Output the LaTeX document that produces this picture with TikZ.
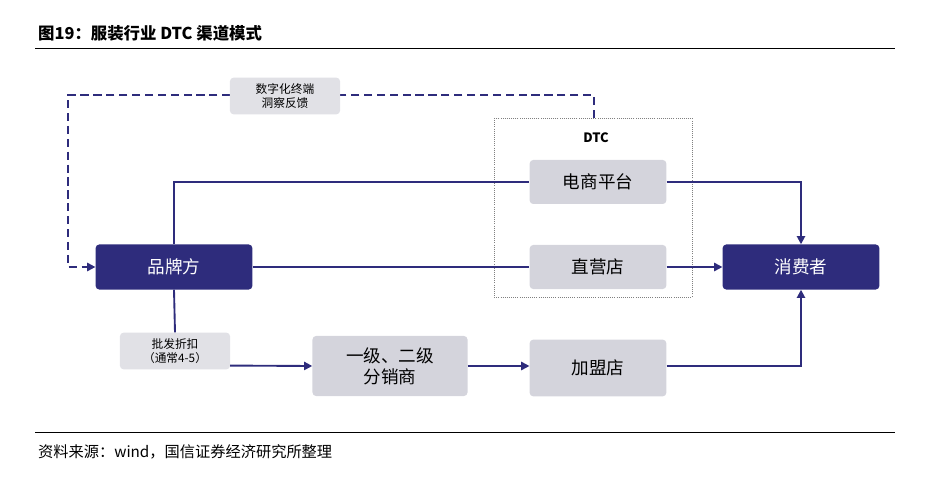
\documentclass[tikz,border=0pt]{standalone}
\usepackage{fontspec}
\setmainfont{Noto Sans CJK SC}
\usetikzlibrary{arrows.meta}
\definecolor{navy}{HTML}{2E2C7C}
\definecolor{boxgray}{HTML}{D4D4DC}
\tikzset{
    dark/.style={fill=navy, text=white, rounded corners=3pt, minimum width=4.7cm, minimum height=1.35cm, font=\fontsize{15}{18}\selectfont},
    light/.style={fill=boxgray, rounded corners=3pt, minimum width=4.1cm, minimum height=1.32cm, font=\fontsize{15}{18}\selectfont, align=center},
    tag/.style={fill=boxgray!70, rounded corners=3pt, minimum width=3.3cm, minimum height=1.1cm, font=\fontsize{10}{12}\selectfont, align=center},
    flow/.style={navy, line width=1.6pt},
    arr/.style={flow, -{Triangle[length=7pt,width=7pt]}},
}
\begin{document}
\begin{tikzpicture}[x=0.03cm, y=-0.03cm]
    \useasboundingbox (0,0) rectangle (942,485);
    % heading and footer
    \node [anchor=west, font=\fontsize{14}{16}\selectfont\bfseries] (title) at (34,33) {图19：服装行业 DTC 渠道模式};
    \draw [line width=0.8pt] (35,48) -- (895,48);
    \draw [line width=0.8pt] (35,432) -- (895,432);
    \node [anchor=west, font=\fontsize{13}{15}\selectfont] (source) at (34,452) {资料来源：wind，国信证券经济研究所整理};
    % DTC frame
    \draw [densely dotted, gray, line width=0.8pt] (494,118) rectangle (692,297);
    \node [font=\fontsize{11}{13}\selectfont\bfseries] (dtc) at (596,138) {DTC};
    \coordinate (dtctop) at (594,118);
    % nodes
    \node [dark] (brand) at (174,267) {品牌方};
    \node [dark] (consumer) at (801,267) {消费者};
    \node [light] (online) at (598,182) {电商平台};
    \node [light] (store) at (598,267) {直营店};
    \node [light, minimum width=4.65cm, minimum height=1.8cm] (dist) at (390,366) {一级、二级\\分销商};
    \node [light, minimum height=1.7cm] (franchise) at (598,368) {加盟店};
    \node [tag] (discount) at (175,351) {批发折扣\\（通常4-5）};
    % connectors
    \draw [flow] (brand.north) |- (online.west);
    \draw [arr] (online.east) -| (consumer.north);
    \draw [flow] (brand.east) -- (store.west);
    \draw [arr] (store.east) -- (consumer.west);
    \draw [flow] (brand.south) -- (discount.north);
    \draw [arr] (discount.south east) ++(0,-4) -- (dist.west |- 0,366);
    \draw [arr] (dist.east) -- (franchise.west |- dist.east);
    \draw [arr] (franchise.east |- dist.east) -| (consumer.south);
    \draw [arr, dashed, dash pattern=on 7pt off 4pt] (dtctop) |- (68,95) |- (brand.west);
    \node [tag] (feedback) at (285,96) {数字化终端\\洞察反馈};
\end{tikzpicture}
\end{document}
